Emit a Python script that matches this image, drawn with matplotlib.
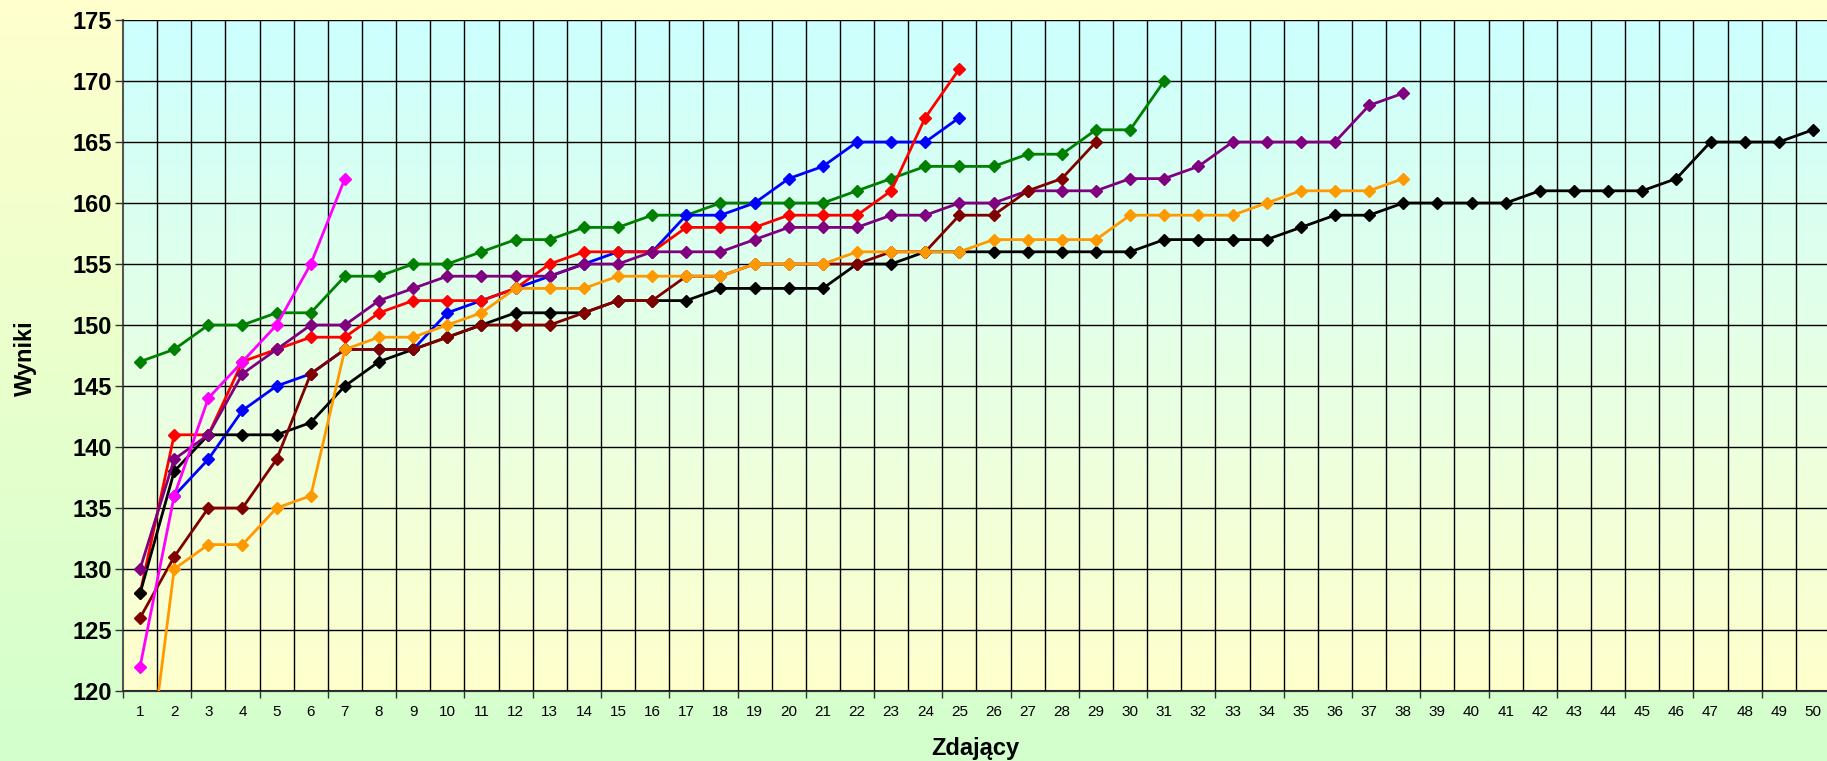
import numpy as np
import matplotlib
matplotlib.use("Agg")
from matplotlib import pyplot as plt
from matplotlib.colors import LinearSegmentedColormap

plt.rcParams['font.family'] = ['Liberation Sans', 'DejaVu Sans']

nan = np.nan

## DATA (one list per contestant, x = 1..n)
green = [147,148,150,150,151,151,154,154,155,155,156,157,157,158,158,159,159,160,160,160,
         160,161,162,163,163,163,164,164,166,166,170]
blue = [nan,136,139,143,145,146,148,148,148,151,152,153,154,155,156,156,159,159,160,162,
        163,165,165,165,167]
red = [128,141,141,147,148,149,149,151,152,152,152,153,155,156,156,156,158,158,158,159,
       159,159,161,167,171]
magenta = [122,136,144,147,150,155,162]
purple = [130,139,141,146,148,150,150,152,153,154,154,154,154,155,155,156,156,156,157,158,
          158,158,159,159,160,160,161,161,161,162,162,163,165,165,165,165,168,169]
darkred = [126,131,135,135,139,146,148,148,148,149,150,150,150,151,152,152,154,154,155,155,
           155,155,156,156,159,159,161,162,165]
orange = [108,130,132,132,135,136,148,149,149,150,151,153,153,153,154,154,154,154,155,155,
          155,156,156,156,156,157,157,157,157,159,159,159,159,160,161,161,161,162]
black = [128,138,141,141,141,142,145,147,148,149,150,151,151,151,152,152,152,153,153,153,
         153,155,155,156,156,156,156,156,156,156,157,157,157,157,158,159,159,160,160,160,
         160,161,161,161,161,162,165,165,165,166]

categories = list(range(1, 51))
yticks = list(range(120, 176, 5))

# draw order: first is at the bottom
series = [
    (green, '#008000'),
    (blue, '#0000ff'),
    (red, '#ff0000'),
    (black, '#000000'),
    (purple, '#800080'),
    (darkred, '#800000'),
    (orange, '#ff9900'),
    (magenta, '#ff00ff'),
]

fig = plt.figure(figsize=(18.27, 7.61), dpi=100)

# figure background gradient (yellow top -> green bottom)
bg = fig.add_axes([0, 0, 1, 1], zorder=-10)
bgcm = LinearSegmentedColormap.from_list('bg', ['#d2ffcc', '#ffffcc'])
bg.imshow(np.linspace(0, 1, 256).reshape(-1, 1), cmap=bgcm, aspect='auto',
          origin='lower', extent=[0, 1, 0, 1])
bg.axis('off')

ax = fig.add_axes([123/1827, 70/761, 1707/1827, 671/761])
ax.patch.set_alpha(0)

# plot area gradient (cyan top -> light yellow bottom)
pcm = LinearSegmentedColormap.from_list('pa', ['#ffffcc', '#ccffff'])
ax.imshow(np.linspace(0, 1, 256).reshape(-1, 1), cmap=pcm, aspect='auto',
          origin='lower', extent=[0.5, 50.5, 120, 175], zorder=0)

for vals, col in series:
    xs = categories[:len(vals)]
    ax.plot(xs, vals, color=col, lw=2.0, marker='D', ms=6, mec=col, mfc=col, zorder=3)

ax.set_xlim(0.5, 50.5)
ax.set_ylim(120, 175)

ax.set_yticks(yticks)
ax.set_yticklabels([str(v) for v in yticks], fontsize=17, fontweight='bold')
ax.set_xticks(categories)
ax.set_xticklabels([str(c) for c in categories], fontsize=11)
ax.tick_params(axis='x', length=0, pad=10)
ax.tick_params(axis='y', length=6, width=1, color='#333333', pad=2)

# grid: horizontal at major y, vertical at every category boundary
ax.set_xticks(np.arange(1.5, 50.5, 1), minor=True)
ax.tick_params(axis='x', which='minor', length=0)
ax.set_axisbelow(False)
ax.grid(True, which='major', axis='y', color='black', lw=1.0)
ax.grid(True, which='minor', axis='x', color='black', lw=1.0)

sec = ax.secondary_xaxis('bottom')
sec.set_xticks(np.arange(0.5, 51, 2))
sec.tick_params(labelbottom=False, length=5, width=1, color='#333333')
sec.spines['bottom'].set_color('#333333')

for s in ['top', 'right']:
    ax.spines[s].set_visible(False)
ax.spines['left'].set_color('#555555')
ax.spines['left'].set_linewidth(1.5)
ax.spines['bottom'].set_color('#333333')
ax.spines['bottom'].set_linewidth(1.5)

fig.text(25/1827, 1 - 358/761, 'Wyniki', rotation=90, ha='center', va='center',
         fontsize=17, fontweight='bold')
fig.text(975/1827, 1 - 748/761, 'Zdający', ha='center', va='center',
         fontsize=17, fontweight='bold')

plt.savefig('out.png', dpi=100)
